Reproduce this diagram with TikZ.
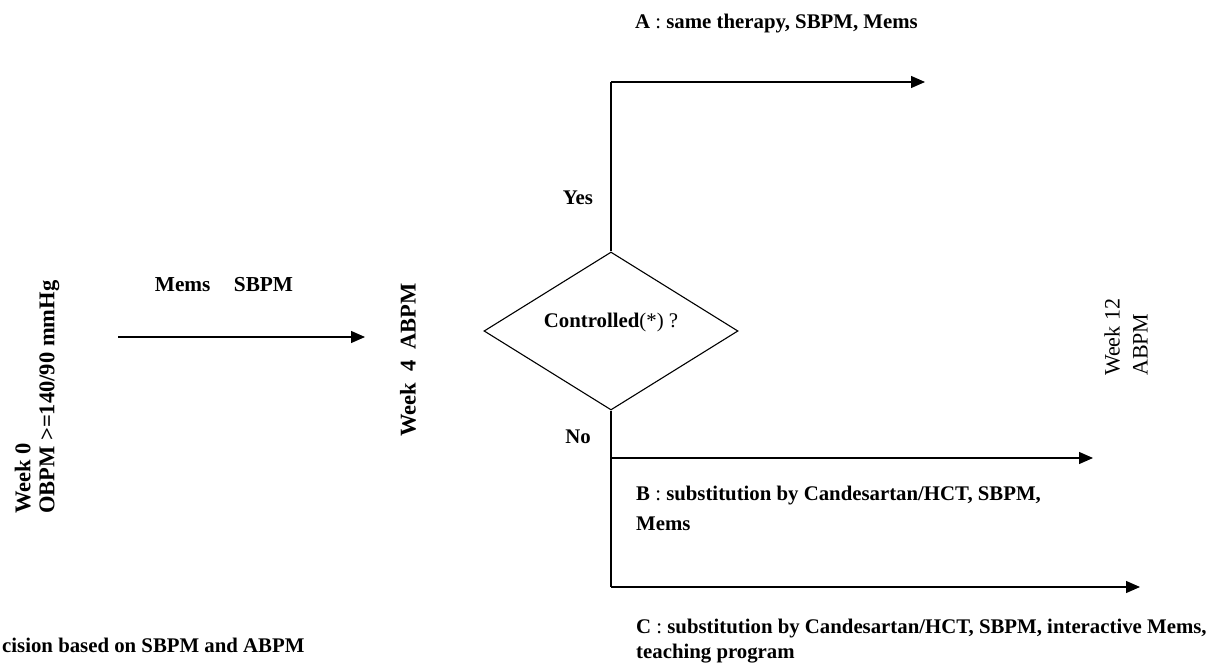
\documentclass[tikz,border=0pt]{standalone}
\usepackage{fontspec}
\setmainfont{Liberation Serif}
\usetikzlibrary{shapes.geometric,arrows.meta,positioning,calc}

\begin{document}
\begin{tikzpicture}[
    x=1pt, y=-1pt,
    lbl/.style={inner sep=0pt, font=\fontsize{20.8}{30}\selectfont\bfseries},
    vlbl/.style={inner sep=0pt, rotate=90, font=\fontsize{22.5}{24}\selectfont\bfseries},
    plain/.style={inner sep=0pt, font=\fontsize{20.8}{25}\selectfont},
    arrow/.style={-{Triangle[length=14pt,width=12pt]}, line width=1.3pt},
    line/.style={line width=1.3pt}
]
\useasboundingbox (0,0) rectangle (1227,671);

% Week 0
\node[vlbl, align=left, anchor=west] (wk0) at (37,514) {Week 0\\OBPM >=140/90 mmHg};

% first arrow
\coordinate (s0) at (118,337);
\coordinate (s1) at (365,337);
\node[lbl, font=\fontsize{21.3}{25}\selectfont\bfseries] (mems) at (224,285) {Mems\hspace{1.1em}SBPM};

% Week 4
\node[vlbl] (wk4) at (408,360) {Week\ \ 4\ \ ABPM};

% Decision
\node[draw, line width=1.1pt, diamond, aspect=1.6, minimum width=254pt, minimum height=158pt, inner sep=0pt,
      font=\fontsize{20.8}{25}\selectfont] (dec) at (611,331) {\textbf{Controlled}(*) ?\rule[-22pt]{0pt}{0pt}};
\node[lbl] (yes) at (578,198) {Yes};
\node[lbl] (no) at (578,437) {No};

% Branches
\coordinate (aend) at (925,82);
\coordinate (bend) at (1093,458);
\coordinate (cend) at (1140,587);
\coordinate (cturn) at (dec.south |- cend);

\node[lbl, anchor=west] (atxt) at (635,24) {A\textmd{ : }same therapy, SBPM, Mems};
\node[lbl, anchor=north west, align=left] (btxt) at (636,486) {B\textmd{ : }substitution by Candesartan/HCT, SBPM,\\Mems};
\node[plain, anchor=north west, align=left, font=\fontsize{20.8}{25}\selectfont\bfseries] (ctxt) at (636,619) {C\textmd{ : }substitution by Candesartan/HCT, SBPM, interactive Mems,\\teaching program};

% Week 12
\node[plain, rotate=90, align=left, anchor=west, font=\fontsize{22}{28}\selectfont] (wk12) at (1126,376) {Week 12\\ABPM};

% footnote
\node[lbl, anchor=west] (note) at (2,645) {cision based on SBPM and ABPM};

% Arrows
\draw[arrow] (s0) -- (s1);
\draw[line] (dec.north) -- (dec.north |- aend);
\draw[arrow] (dec.north |- aend) -- (aend);
\draw[line] (dec.south) -- (cturn);
\draw[arrow] (dec.south |- bend) -- (bend);
\draw[arrow] (cturn) -- (cend);
\end{tikzpicture}
\end{document}
